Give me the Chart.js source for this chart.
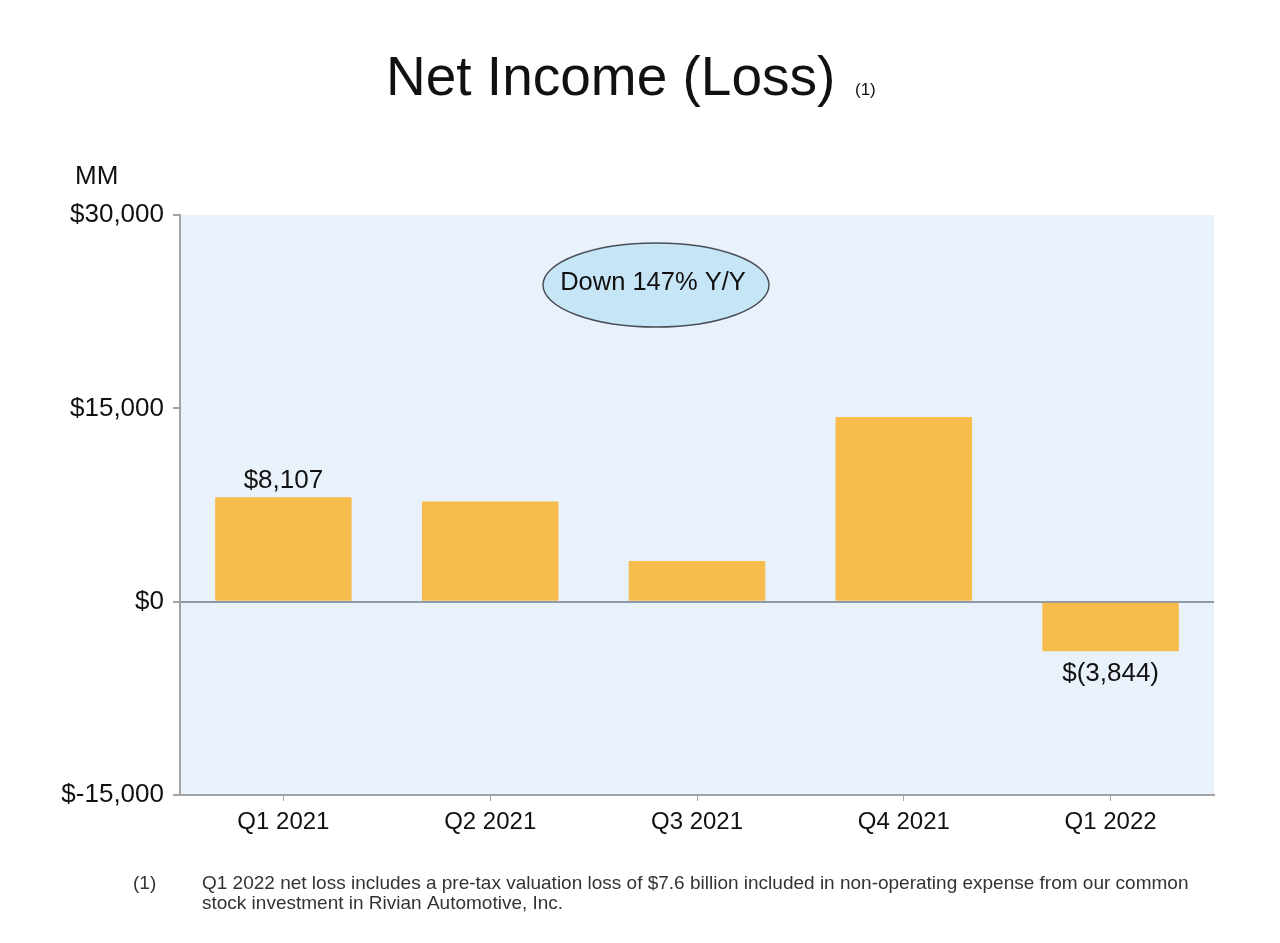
<!DOCTYPE html>
<html>
<head>
<meta charset="utf-8">
<title>Net Income (Loss)</title>
<script src="https://cdn.jsdelivr.net/npm/chart.js@4"></script>
<style>
    body { margin: 0; background: #ffffff; }
    #chart { display: block; }
</style>
</head>
<body>
<canvas id="chart" width="1280" height="943"></canvas>
<script>
const quarters = ["Q1 2021", "Q2 2021", "Q3 2021", "Q4 2021", "Q1 2022"];
const netIncome = [8107, 7778, 3156, 14323, -3844];
const barLabels = ["$8,107", "", "", "", "$(3,844)"];
const yTicks = [-15000, 0, 15000, 30000];
const yTickLabels = ["$-15,000", "$0", "$15,000", "$30,000"];

const FONT = "'Liberation Sans', Arial, sans-serif";

// light blue plot background + page text
const decorations = {
    id: "decorations",
    beforeDraw(chart) {
        const c = chart.ctx;
        const area = chart.chartArea;
        c.save();
        c.fillStyle = "#ffffff";
        c.fillRect(0, 0, chart.width, chart.height);
        c.fillStyle = "#e9f1fb";
        c.fillRect(area.left, area.top, area.right - area.left, area.bottom - area.top);
        c.restore();
    },
    afterDatasetsDraw(chart) {
        const c = chart.ctx;
        const meta = chart.getDatasetMeta(0);
        c.save();
        c.fillStyle = "#111111";
        c.font = "26px " + FONT;
        c.textAlign = "center";
        meta.data.forEach((bar, i) => {
            if (!barLabels[i]) return;
            if (netIncome[i] >= 0) {
                c.textBaseline = "alphabetic";
                c.fillText(barLabels[i], bar.x, bar.y - 9);
            } else {
                c.textBaseline = "middle";
                c.fillText(barLabels[i], bar.x, bar.y + 23);
            }
        });
        c.restore();
    },
    afterDraw(chart) {
        const c = chart.ctx;
        c.save();
        c.fillStyle = "#111111";

        // title
        c.textBaseline = "alphabetic";
        c.textAlign = "left";
        c.font = "55px " + FONT;
        c.fillText("Net Income (Loss)", 386, 95);
        c.font = "17px " + FONT;
        c.fillText("(1)", 855, 95);

        // units
        c.font = "26px " + FONT;
        c.textBaseline = "middle";
        c.fillText("MM", 75, 177);

        // callout
        c.beginPath();
        c.ellipse(656, 285, 113, 42, 0, 0, Math.PI * 2);
        c.fillStyle = "#c6e6f7";
        c.fill();
        c.lineWidth = 1.5;
        c.strokeStyle = "#4a4f57";
        c.stroke();
        c.fillStyle = "#111111";
        c.textAlign = "center";
        c.font = "25.5px " + FONT;
        c.fillText("Down 147% Y/Y", 653, 283);

        // footnote
        c.fillStyle = "#333333";
        c.textAlign = "left";
        c.font = "19px " + FONT;
        c.fillText("(1)", 133, 884);
        c.fillText("Q1 2022 net loss includes a pre-tax valuation loss of $7.6 billion included in non-operating expense from our common", 202, 884);
        c.fillText("stock investment in Rivian Automotive, Inc.", 202, 904);
        c.restore();
    }
};

const ctx = document.getElementById("chart").getContext("2d");

new Chart(ctx, {
    type: "bar",
    data: {
        labels: quarters,
        datasets: [{
            data: netIncome,
            backgroundColor: "#f6bc4c",
            borderWidth: 0,
            categoryPercentage: 1,
            barPercentage: 0.66
        }]
    },
    options: {
        responsive: false,
        animation: false,
        layout: { padding: { top: 215, right: 66, left: 0, bottom: 0 } },
        plugins: {
            legend: { display: false },
            tooltip: { enabled: false }
        },
        scales: {
            x: {
                afterFit(scale) { scale.height = 148; },
                grid: {
                    offset: false,
                    color: "transparent",
                    tickColor: "#a3a3a3",
                    tickLength: 6
                },
                border: { color: "#a3a3a3", width: 2 },
                ticks: {
                    color: "#111111",
                    font: { family: FONT, size: 24 },
                    padding: 7
                }
            },
            y: {
                min: -15000,
                max: 30000,
                afterFit(scale) { scale.width = 180; },
                afterBuildTicks(scale) {
                    scale.ticks = yTicks.map(v => ({ value: v }));
                },
                grid: {
                    color: (c) => c.tick && c.tick.value === 0 ? "#8e99aa" : "transparent",
                    lineWidth: 2,
                    tickColor: "#a3a3a3",
                    tickLength: 7
                },
                border: { color: "#a3a3a3", width: 2 },
                ticks: {
                    color: "#111111",
                    font: { family: FONT, size: 26 },
                    padding: 9,
                    callback: (value) => yTickLabels[yTicks.indexOf(value)]
                }
            }
        }
    },
    plugins: [decorations]
});
</script>
</body>
</html>
